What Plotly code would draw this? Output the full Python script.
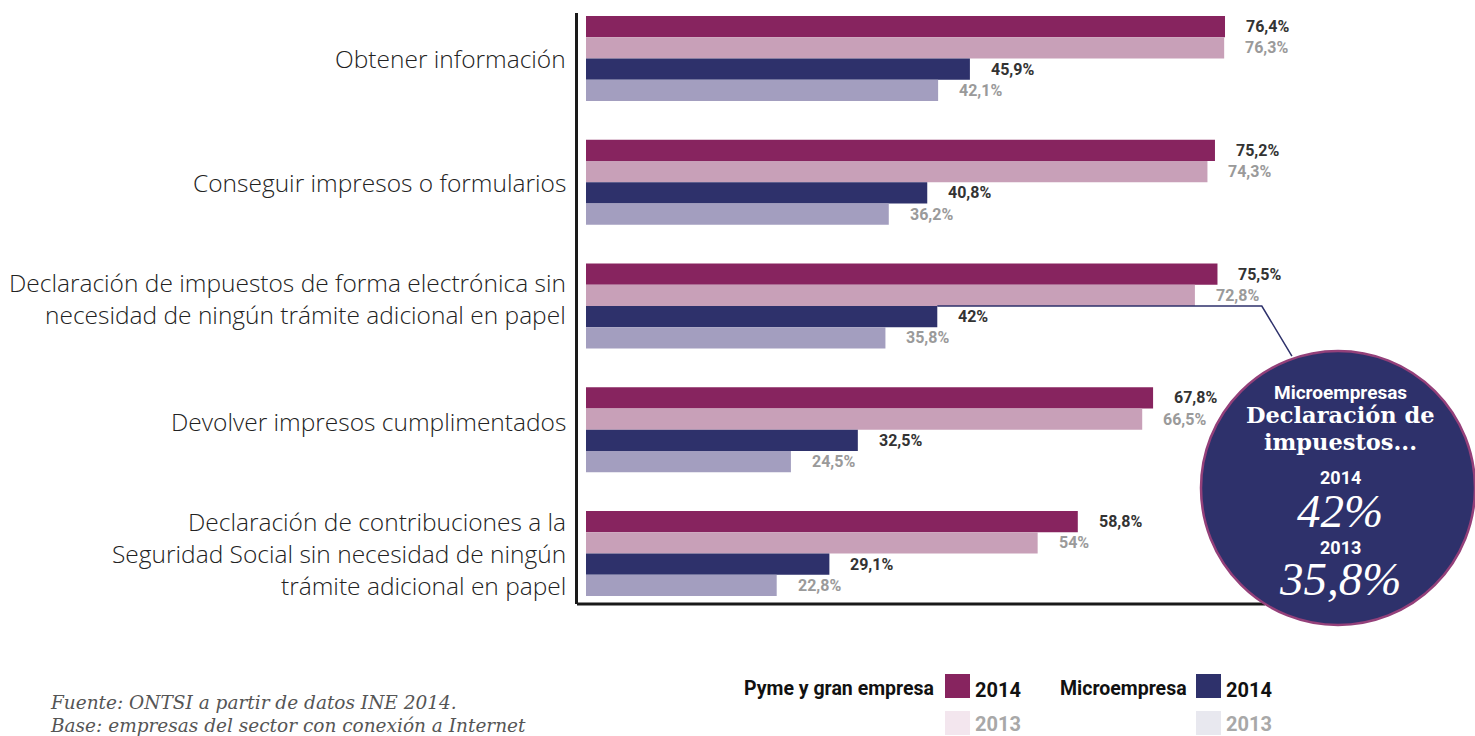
import plotly.graph_objects as go

# ---- data ----
categories = [
    "Obtener información",
    "Conseguir impresos o formularios",
    "Declaración de impuestos de forma electrónica sin\nnecesidad de ningún trámite adicional en papel",
    "Devolver impresos cumplimentados",
    "Declaración de contribuciones a la\nSeguridad Social sin necesidad de ningún\ntrámite adicional en papel",
]
pyme_2014 = [76.4, 75.2, 75.5, 67.8, 58.8]
pyme_2013 = [76.3, 74.3, 72.8, 66.5, 54.0]
micro_2014 = [45.9, 40.8, 42.0, 32.5, 29.1]
micro_2013 = [42.1, 36.2, 35.8, 24.5, 22.8]

highlight_index = 2  # "Declaración de impuestos..." row
footnotes = ["Fuente: ONTSI a partir de datos INE 2014.",
             "Base: empresas del sector con conexión a Internet"]

# ---- canvas geometry ----
W, H = 1475, 736
L, R, T, B = 578, 0, 13, 132
label_nudge = [0, 0, 8, 8, 0]  # px upward shift of category labels


def px(xp):
    return (xp - L) / (W - L - R)


def py(yp):
    return (H - B - yp) / (H - T - B)


def fmt(v):
    return f"{v:g}".replace(".", ",") + "%"


C_P14, C_P13 = "#87245f", "#c8a0b8"
C_M14, C_M13 = "#2e316b", "#a39ebf"

pos = list(range(len(categories)))
series = [
    ("Pyme y gran empresa 2014", pyme_2014, C_P14, "#333333"),
    ("Pyme y gran empresa 2013", pyme_2013, C_P13, "#9a9a9a"),
    ("Microempresa 2014", micro_2014, C_M14, "#333333"),
    ("Microempresa 2013", micro_2013, C_M13, "#9a9a9a"),
]

BARGAP = 0.313
bar_w = (1 - BARGAP) / len(series)

fig = go.Figure()
annotations = []
for i, (name, vals, color, lab_color) in enumerate(series):
    fig.add_bar(y=pos, x=vals, orientation="h", name=name,
                marker=dict(color=color, line=dict(width=0)),
                showlegend=False, hoverinfo="x+name")
    off = -(1 - BARGAP) / 2 + bar_w * (i + 0.5)
    for k, v in zip(pos, vals):
        annotations.append(dict(
            x=v, y=k + off, xref="x", yref="y", text=fmt(v),
            showarrow=False, xanchor="left", xshift=19,
            font=dict(family="Roboto", size=16, color=lab_color, weight="bold")))

# category labels, one annotation per line
for k, lab in zip(pos, categories):
    lines = lab.split("\n")
    n = len(lines)
    for j, line in enumerate(lines):
        annotations.append(dict(
            x=px(568), y=k, xref="paper", yref="y", text=line,
            showarrow=False, xanchor="right",
            yshift=((n - 1) / 2 - j) * 32 + label_nudge[k],
            font=dict(family="Open Sans", size=24.5, color="#222222", weight=300)))

# ---- callout circle ----
cx, cy, rad = 1338, 488, 137
circle_text = [
    ("Microempresas", 392, dict(family="Roboto", size=19, color="white", weight="bold")),
    ("Declaración de", 415, dict(family="DejaVu Serif", size=22.5, color="white", weight="bold")),
    ("impuestos...", 442, dict(family="DejaVu Serif", size=22.5, color="white", weight="bold")),
    ("2014", 477, dict(family="Roboto", size=18, color="white", weight="bold")),
    (fmt(micro_2014[highlight_index]), 511, dict(family="Liberation Serif", size=47, color="white", style="italic")),
    ("2013", 547, dict(family="Roboto", size=18, color="white", weight="bold")),
    (fmt(micro_2013[highlight_index]), 579, dict(family="Liberation Serif", size=47, color="white", style="italic")),
]
for txt, yp, f in circle_text:
    annotations.append(dict(x=px(1340), y=py(yp), xref="paper", yref="paper",
                            text=txt, showarrow=False, xanchor="center",
                            yanchor="middle", font=f))

# ---- legend (drawn by hand) ----
leg_font = dict(family="Roboto", size=19.5, color="#111111", weight="bold")
annotations += [
    dict(x=px(936), y=py(688), xref="paper", yref="paper", text="Pyme y gran empresa",
         showarrow=False, xanchor="right", yanchor="middle", font=leg_font),
    dict(x=px(1189), y=py(688), xref="paper", yref="paper", text="Microempresa",
         showarrow=False, xanchor="right", yanchor="middle", font=leg_font),
]
for x_sw in (945, 1196):
    annotations.append(dict(x=px(x_sw + 28), y=py(690), xref="paper", yref="paper",
                            text="2014", showarrow=False, xanchor="left", yanchor="middle",
                            font=dict(family="Roboto", size=20, color="#111111", weight="bold")))
    annotations.append(dict(x=px(x_sw + 28), y=py(724), xref="paper", yref="paper",
                            text="2013", showarrow=False, xanchor="left", yanchor="middle",
                            font=dict(family="Roboto", size=20, color="#a8a8a8", weight="bold")))

# ---- footnotes ----
for txt, yp in zip(footnotes, (702, 725)):
    annotations.append(dict(x=px(48), y=py(yp), xref="paper", yref="paper", text=txt,
                            showarrow=False, xanchor="left", yanchor="middle",
                            font=dict(family="DejaVu Serif", size=18.5, color="#555555",
                                      style="italic")))

shapes = [
    # bottom baseline
    dict(type="line", xref="paper", yref="paper", x0=px(577), x1=px(1265),
         y0=py(604), y1=py(604), line=dict(color="#1a1a1a", width=3)),
    # legend swatches
    dict(type="rect", xref="paper", yref="paper", x0=px(945), x1=px(970),
         y0=py(698), y1=py(674), fillcolor=C_P14, line=dict(width=0)),
    dict(type="rect", xref="paper", yref="paper", x0=px(945), x1=px(970),
         y0=py(735), y1=py(711), fillcolor="#f3e6ee", line=dict(width=0)),
    dict(type="rect", xref="paper", yref="paper", x0=px(1196), x1=px(1221),
         y0=py(698), y1=py(674), fillcolor=C_M14, line=dict(width=0)),
    dict(type="rect", xref="paper", yref="paper", x0=px(1196), x1=px(1221),
         y0=py(735), y1=py(711), fillcolor="#e8e8ef", line=dict(width=0)),
    # connector from highlighted bar to the circle
    dict(type="path", xref="x", yref="y",
         path=f"M {micro_2014[highlight_index]},{highlight_index} L 80.8,{highlight_index} L 84.4,2.405",
         line=dict(color=C_M14, width=1.5)),
    # circle
    dict(type="circle", xref="paper", yref="paper", xsizemode="pixel", ysizemode="pixel",
         xanchor=px(cx), yanchor=py(cy), x0=-rad, x1=rad, y0=-rad, y1=rad,
         fillcolor=C_M14, line=dict(color="#94407a", width=2.5)),
]

x0_val = -8 / 8.364
x1_val = (W - 586) / 8.364
fig.update_layout(
    width=W, height=H,
    margin=dict(l=L, r=R, t=T, b=B, pad=0),
    barmode="group", bargap=BARGAP, bargroupgap=0,
    paper_bgcolor="white", plot_bgcolor="white",
    xaxis=dict(range=[x0_val, x1_val], showgrid=False, zeroline=False,
               showticklabels=False, showline=False, fixedrange=True),
    yaxis=dict(range=[4.408, -0.368], showgrid=False, zeroline=False,
               showticklabels=False, showline=True, linecolor="#1a1a1a",
               linewidth=3, fixedrange=True),
    annotations=annotations,
    shapes=shapes,
)

fig.write_html("out.html")
